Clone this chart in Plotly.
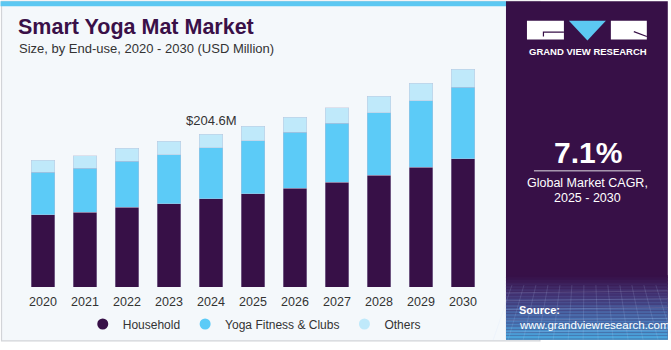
import plotly.graph_objects as go

years = ["2020", "2021", "2022", "2023", "2024", "2025", "2026", "2027", "2028", "2029", "2030"]
household = [96.9, 99.9, 106.4, 111.7, 117.8, 124.8, 132.2, 140.1, 149.6, 160.1, 171.9]
yoga_fitness = [56.3, 58.9, 62.0, 65.1, 68.5, 71.0, 75.0, 78.9, 83.8, 89.0, 95.2]
others = [16.1, 16.6, 17.0, 17.9, 18.3, 19.6, 19.6, 20.9, 21.9, 23.2, 24.5]
series_names = ["Household", "Yoga Fitness & Clubs", "Others"]
colors = ["#371047", "#5ccbf7", "#bfe9fa"]
highlight_year = "2024"
highlight_label = "&#36;204.6M"

W, H = 671, 350
L, R, T, B = 21.5, 187, 60, 58
PW, PH = W - L - R, H - T - B
FONT = "Liberation Sans"
YMAX = PH * 204.6 / 156.3


def px(x):
    return (x - L) / PW


def py(y):
    return (H - B - y) / PH


fig = go.Figure()
for name, vals, c in zip(series_names, [household, yoga_fitness, others], colors):
    fig.add_trace(go.Bar(
        x=years, y=vals, name=name, marker_color=c,
        marker_line=dict(color="rgba(190,190,215,0.5)", width=0.8),
        showlegend=False, hoverinfo="skip"))
for name, c in zip(series_names, colors):
    fig.add_trace(go.Scatter(
        x=[None], y=[None], mode="markers", name=name,
        marker=dict(color=c, size=11, symbol="circle")))

shapes = []
shapes.append(dict(type="rect", xref="paper", yref="paper",
                   x0=px(1), x1=px(540), y0=py(347), y1=py(0),
                   fillcolor="#f4f8fb", line=dict(color="#d2d4d8", width=1.2),
                   layer="below"))
shapes.append(dict(type="rect", xref="paper", yref="paper",
                   x0=px(0), x1=px(507), y0=py(5), y1=py(0),
                   fillcolor="#5cc8f2", line=dict(width=0), layer="below"))
shapes.append(dict(type="rect", xref="paper", yref="paper",
                   x0=px(506), x1=px(668), y0=py(346), y1=py(0),
                   fillcolor="#371047", line=dict(width=0), layer="below"))
stops = [(280, (55, 16, 71)), (300, (70, 60, 125)), (325, (74, 118, 182)), (346, (75, 172, 226))]
y = 280
while y < 346:
    for (y0s, c0), (y1s, c1) in zip(stops[:-1], stops[1:]):
        if y0s <= y < y1s:
            t = (y - y0s) / (y1s - y0s)
            col = tuple(int(c0[i] + (c1[i] - c0[i]) * t) for i in range(3))
            break
    shapes.append(dict(type="rect", xref="paper", yref="paper",
                       x0=px(506), x1=px(668), y0=py(y + 1.5), y1=py(y),
                       fillcolor="rgb(%d,%d,%d)" % col, line=dict(width=0), layer="below"))
    y += 1.5
for gy in [298, 306, 315, 326, 338]:
    shapes.append(dict(type="line", xref="paper", yref="paper",
                       x0=px(506), x1=px(668), y0=py(gy), y1=py(gy - 2),
                       line=dict(color="rgba(200,220,255,0.22)", width=0.8), layer="below"))
for gx in range(512, 668, 12):
    shapes.append(dict(type="line", xref="paper", yref="paper",
                       x0=px(gx), x1=px(gx + (gx - 587) * 0.25), y0=py(290), y1=py(346),
                       line=dict(color="rgba(200,220,255,0.18)", width=0.8), layer="below"))
shapes.append(dict(type="rect", xref="paper", yref="paper",
                   x0=px(527), x1=px(564), y0=py(39), y1=py(20),
                   fillcolor="white", line=dict(width=0)))
shapes.append(dict(type="path", xref="paper", yref="paper",
                   path="M %f %f L %f %f L %f %f Z" % (px(569), py(20), px(606), py(20), px(587.5), py(40)),
                   fillcolor="#5cc8f2", line=dict(width=0)))
shapes.append(dict(type="rect", xref="paper", yref="paper",
                   x0=px(611), x1=px(647), y0=py(39), y1=py(20),
                   fillcolor="white", line=dict(width=0)))
shapes.append(dict(type="path", xref="paper", yref="paper",
                   path="M %f %f L %f %f L %f %f" % (px(543.5), py(36), px(543.5), py(31.5), px(564), py(31.5)),
                   line=dict(color="#371047", width=1.2)))
shapes.append(dict(type="line", xref="paper", yref="paper",
                   x0=px(634), x1=px(647), y0=py(31), y1=py(36),
                   line=dict(color="#371047", width=1.2)))
shapes.append(dict(type="line", xref="paper", yref="paper",
                   x0=px(534), x1=px(641), y0=py(173.3), y1=py(173.3),
                   line=dict(color="rgba(255,255,255,0.85)", width=1)))

annotations = []


def txt(x, y, s, size, color, bold=False, xanchor="left", family=FONT):
    annotations.append(dict(
        xref="paper", yref="paper", x=px(x), y=py(y), text=("<b>%s</b>" % s) if bold else s,
        showarrow=False, xanchor=xanchor, yanchor="middle",
        font=dict(family=family, size=size, color=color)))


txt(15, 26, "Smart Yoga Mat Market", 21.5, "#3a1048", bold=True)
txt(16, 48, "Size, by End-use, 2020 - 2030 (USD Million)", 13, "#333333")
txt(527, 51, "GRAND VIEW RESEARCH", 9.5, "white", bold=True)
txt(588, 155, "7.1%", 30, "white", bold=True, xanchor="center")
txt(588, 186, "Global Market CAGR,", 12.5, "white", xanchor="center")
txt(588, 201, "2025 - 2030", 12.5, "white", xanchor="center")
txt(517, 316, "Source:", 11, "white", bold=True)
txt(517, 331, "www.grandviewresearch.com", 11.5, "white")

idx = years.index(highlight_year)
total = household[idx] + yoga_fitness[idx] + others[idx]
annotations.append(dict(x=(idx + 0.5) / len(years), y=total / YMAX, xref="paper", yref="paper",
                        text=highlight_label, showarrow=False, xanchor="center",
                        yanchor="bottom", yshift=4,
                        font=dict(family=FONT, size=13, color="#333333")))

fig.update_layout(
    width=W, height=H, barmode="stack", bargap=0.45,
    margin=dict(l=L, r=R, t=T, b=B, pad=0),
    paper_bgcolor="white", plot_bgcolor="rgba(0,0,0,0)",
    shapes=shapes, annotations=annotations,
    showlegend=True,
    legend=dict(orientation="h", x=px(254), y=py(315), xanchor="center", yanchor="top",
                traceorder="normal",
                font=dict(family=FONT, size=12, color="#333333"),
                bgcolor="rgba(0,0,0,0)", itemwidth=30),
    xaxis=dict(type="category", range=[-0.5, 10.5], showgrid=False, showline=False,
               ticks="outside", ticklen=3, tickcolor="rgba(0,0,0,0)",
               tickfont=dict(family=FONT, size=12.5, color="#333333"), fixedrange=True),
    yaxis=dict(range=[0, YMAX], showticklabels=False, showgrid=False, zeroline=False,
               showline=False, ticks="", fixedrange=True),
)
fig.write_html("out.html", config={"displayModeBar": False})
